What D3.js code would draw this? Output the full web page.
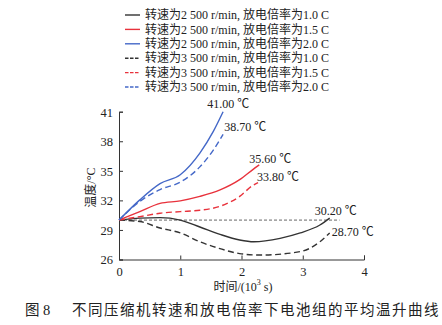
<!DOCTYPE html>
<html>
<head>
<meta charset="utf-8">
<script src="https://cdn.jsdelivr.net/npm/d3@7/dist/d3.min.js"></script>
<style>
  html, body { margin: 0; padding: 0; background: #fff; }
  svg text { font-family: "Liberation Serif", "Noto Sans CJK SC", serif; fill: #222; }
</style>
</head>
<body>
<svg id="chart" width="442" height="325"></svg>
<script>
// Time in 10^3 s
const t2500_10 = [0, 0.34, 0.67, 1.0, 1.32, 1.65, 1.97, 2.2, 2.63, 2.96, 3.28, 3.44];
const v2500_10 = [30.0, 30.2, 30.25, 30.0, 29.3, 28.55, 27.98, 27.8, 28.15, 28.7, 29.5, 30.2];
const t2500_15 = [0, 0.34, 0.67, 1.0, 1.32, 1.65, 1.97, 2.2, 2.29];
const v2500_15 = [30.0, 30.86, 31.7, 31.95, 32.4, 33.06, 34.1, 35.2, 35.6];
const t2500_20 = [0, 0.34, 0.67, 1.0, 1.32, 1.54, 1.70];
const v2500_20 = [30.0, 32.05, 33.7, 34.6, 36.8, 39.0, 41.0];
const t3500_10 = [0, 0.34, 0.67, 1.0, 1.32, 1.65, 1.97, 2.3, 2.96, 3.28, 3.44];
const v3500_10 = [30.0, 29.85, 29.2, 28.7, 27.8, 27.1, 26.6, 26.45, 26.8, 27.8, 28.7];
const t3500_15 = [0, 0.34, 0.67, 1.0, 1.32, 1.65, 1.97, 2.18, 2.27];
const v3500_15 = [30.0, 30.35, 30.7, 30.86, 31.0, 31.4, 32.4, 33.5, 33.8];
const t3500_20 = [0, 0.34, 0.67, 1.0, 1.32, 1.54, 1.70];
const v3500_20 = [30.0, 31.9, 33.1, 33.85, 35.4, 37.1, 38.7];

const legendLabels = [
  "转速为2 500 r/min, 放电倍率为1.0 C",
  "转速为2 500 r/min, 放电倍率为1.5 C",
  "转速为2 500 r/min, 放电倍率为2.0 C",
  "转速为3 500 r/min, 放电倍率为1.0 C",
  "转速为3 500 r/min, 放电倍率为1.5 C",
  "转速为3 500 r/min, 放电倍率为2.0 C"
];
const endLabels = ["30.20 ℃", "35.60 ℃", "41.00 ℃", "28.70 ℃", "33.80 ℃", "38.70 ℃"];
const xTicks = [0, 1, 2, 3, 4];
const yTicks = [26, 29, 32, 35, 38, 41];
const refTemp = 30;
const refEnd = 3.6;

const colors = ["#333333", "#e8323c", "#4468c8", "#333333", "#e8323c", "#4468c8"];
const dashed = [false, false, false, true, true, true];
const times = [t2500_10, t2500_15, t2500_20, t3500_10, t3500_15, t3500_20];
const values = [v2500_10, v2500_15, v2500_20, v3500_10, v3500_15, v3500_20];
const series = times.map((ts, i) => ts.map((t, j) => ({ t, v: values[i][j] })));

const svg = d3.select("#chart");
const x = d3.scaleLinear().domain([0, 4]).range([119, 364]);
const y = d3.scaleLinear().domain([26, 41]).range([259.5, 111.7]);

// Axes with inward ticks
const xAxis = svg.append("g").attr("transform", `translate(0,${y(26)})`)
  .call(d3.axisBottom(x).tickValues(xTicks).tickSize(-4).tickPadding(8).tickFormat(d3.format("d")));
const yAxis = svg.append("g").attr("transform", `translate(${x(0)},0)`)
  .call(d3.axisLeft(y).tickValues(yTicks).tickSize(-4).tickPadding(6).tickFormat(d3.format("d")));
[xAxis, yAxis].forEach(g => {
  g.selectAll("path, line").attr("stroke", "#333").attr("stroke-width", 1);
  g.selectAll("text").attr("font-size", 12.5).attr("fill", "#222")
    .style("font-family", '"Liberation Serif", serif');
});
yAxis.selectAll("text").attr("dy", "0.35em");

// Reference line at the starting temperature
svg.append("line")
  .attr("x1", x(0)).attr("x2", x(refEnd))
  .attr("y1", y(refTemp)).attr("y2", y(refTemp))
  .attr("stroke", "#555").attr("stroke-width", 0.9).attr("stroke-dasharray", "3,2");

const line = d3.line().x(d => x(d.t)).y(d => y(d.v)).curve(d3.curveMonotoneX);
series.forEach((s, i) => {
  svg.append("path").datum(s)
    .attr("d", line)
    .attr("fill", "none")
    .attr("stroke", colors[i])
    .attr("stroke-width", 1.4)
    .attr("stroke-dasharray", dashed[i] ? "6,3.5" : null);
});

// End-point value labels
const labelOffsets = [[-15, -3], [-10, -2], [-16, -4], [2, 3], [-1, -2], [1, -3]];
series.forEach((s, i) => {
  const last = s[s.length - 1];
  svg.append("text")
    .attr("x", x(last.t) + labelOffsets[i][0])
    .attr("y", y(last.v) + labelOffsets[i][1])
    .attr("font-size", 12)
    .text(endLabels[i]);
});

// Legend
const legend = svg.append("g");
legendLabels.forEach((lab, i) => {
  const yy = 15 + i * 14.4;
  legend.append("line")
    .attr("x1", 125).attr("x2", 140).attr("y1", yy).attr("y2", yy)
    .attr("stroke", colors[i]).attr("stroke-width", 1.4)
    .attr("stroke-dasharray", dashed[i] ? "3.5,1.5" : null);
  legend.append("text")
    .attr("x", 145).attr("y", yy).attr("dy", "0.35em")
    .attr("font-size", 12)
    .text(lab);
});

// Axis titles
svg.append("text")
  .attr("transform", `translate(95,${y(33.3)}) rotate(-90)`)
  .attr("text-anchor", "middle")
  .attr("font-size", 12)
  .text("温度/°C");

const xt = svg.append("text")
  .attr("x", 243).attr("y", 291)
  .attr("text-anchor", "middle")
  .attr("font-size", 12);
xt.append("tspan").text("时间/(10");
xt.append("tspan").attr("font-size", 8).attr("dy", -6).text("3");
xt.append("tspan").attr("dy", 6).text(" s)");

// Caption
svg.append("text")
  .attr("x", 25).attr("y", 315)
  .attr("font-size", 14.5)
  .text("图 8");
svg.append("text")
  .attr("x", 72).attr("y", 315)
  .attr("font-size", 14.5)
  .attr("letter-spacing", 1.5)
  .text("不同压缩机转速和放电倍率下电池组的平均温升曲线");
</script>
</body>
</html>
